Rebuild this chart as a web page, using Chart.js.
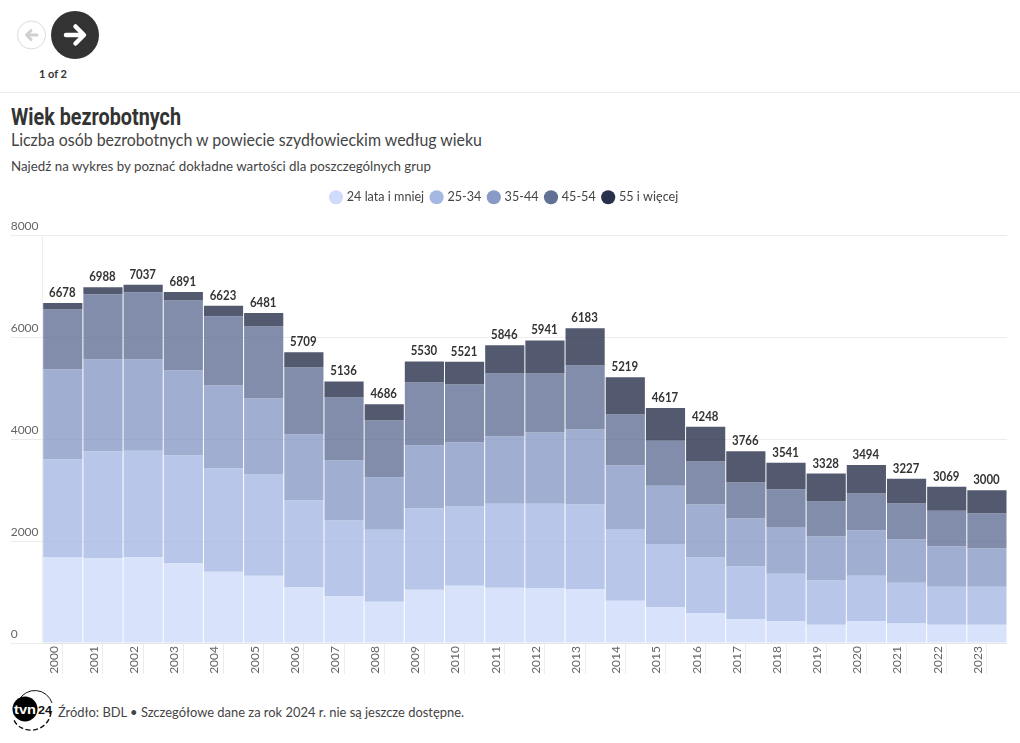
<!DOCTYPE html>
<html lang="pl">
<head>
<meta charset="utf-8">
<script src="https://cdn.jsdelivr.net/npm/chart.js@4"></script>
<style>
html,body{margin:0;padding:0;background:#fff;width:1020px;height:743px;overflow:hidden;font-family:Lato,sans-serif;}
.t{position:absolute;white-space:nowrap;transform-origin:0 50%;line-height:1;}
#title{left:11px;top:104px;font:700 23px Roboto,sans-serif;color:#333;}
#sub{left:11px;top:131px;font-size:17px;color:#444;}
#note{left:11px;top:159px;font-size:14px;color:#444;}
#foot{left:58px;top:705px;font-size:14px;color:#444;}
#page{left:39px;top:68px;font-size:12px;font-weight:700;color:#333;}
#rule{position:absolute;left:0;top:92px;width:1020px;height:1px;background:#ececec;}
#wrap{position:absolute;left:0;top:183px;width:1007px;height:495px;}
svg{position:absolute;left:0;top:0;}
</style>
</head>
<body>
<svg width="110" height="70">
  <circle cx="31.5" cy="35" r="14" fill="#fff" stroke="#dcdcdc" stroke-width="1"/>
  <path d="M37 35H27M31 30.5L26.5 35L31 39.5" fill="none" stroke="#d0d0d0" stroke-width="3" stroke-linecap="round" stroke-linejoin="round"/>
  <circle cx="75" cy="35" r="24" fill="#333"/>
  <path d="M66 35H83M75.5 26.5L84 35L75.5 43.5" fill="none" stroke="#fff" stroke-width="4.5" stroke-linecap="round" stroke-linejoin="round"/>
</svg>
<div class="t" id="page" data-w="28">1 of 2</div>
<div id="rule"></div>
<div class="t" id="title" data-w="170">Wiek bezrobotnych</div>
<div class="t" id="sub" data-w="471">Liczba osób bezrobotnych w powiecie szydłowieckim według wieku</div>
<div class="t" id="note" data-w="420">Najedź na wykres by poznać dokładne wartości dla poszczególnych grup</div>
<div id="wrap"><canvas id="c" width="1007" height="495" style="width:1007px;height:495px"></canvas></div>
<svg width="60" height="50" style="left:0;top:685px">
  <path d="M19 15A18 18 0 0 1 52 18" fill="none" stroke="#111" stroke-width="1"/>
  <path d="M51 27A20 20 0 0 1 22 43A14 14 0 0 1 14 35" fill="none" stroke="#111" stroke-width="1.4" stroke-dasharray="5 2.5"/>
  <circle cx="25" cy="24" r="12.5" fill="#000"/>
  <text x="14" y="28.5" font-family="Liberation Sans" font-weight="700" font-size="13" fill="#fff" textLength="22" lengthAdjust="spacingAndGlyphs">tvn</text>
  <text x="38" y="28.5" font-family="Liberation Sans" font-weight="700" font-size="10" fill="#111" textLength="14" lengthAdjust="spacingAndGlyphs">24</text>
</svg>
<div class="t" id="foot" data-w="406">Źródło: BDL • Szczegółowe dane za rok 2024 r. nie są jeszcze dostępne.</div>
<script>
const years = ['2000','2001','2002','2003','2004','2005','2006','2007','2008','2009','2010','2011','2012','2013','2014','2015','2016','2017','2018','2019','2020','2021','2022','2023'];
const group24 = [1677,1663,1683,1565,1401,1323,1093,916,810,1048,1126,1087,1081,1061,831,700,590,472,425,360,432,385,360,360];
const group25 = [1926,2097,2091,2117,2025,1985,1704,1488,1415,1592,1553,1645,1651,1657,1410,1246,1089,1028,937,865,891,800,747,747];
const group35 = [1775,1809,1795,1670,1632,1494,1297,1179,1028,1238,1258,1323,1402,1475,1244,1140,1039,943,918,864,884,845,786,747];
const group45 = [1173,1277,1317,1376,1356,1415,1317,1239,1117,1238,1140,1238,1159,1258,1002,884,846,708,733,688,728,708,702,688];
const group55 = [127,142,151,163,209,264,298,314,316,414,444,553,648,732,732,647,684,615,528,551,559,489,474,458];
const totals = [6678,6988,7037,6891,6623,6481,5709,5136,4686,5530,5521,5846,5941,6183,5219,4617,4248,3766,3541,3328,3494,3227,3069,3000];
const groupNames = ['24 lata i mniej','25-34','35-44','45-54','55 i więcej'];
const groupColors = ['#cedbfa','#a5b8e3','#889ac5','#617195','#28314b'];
const yTicks = [0,2000,4000,6000,8000];

document.querySelectorAll('.t').forEach(el => {
  const w = el.getBoundingClientRect().width;
  el.style.transform = 'scaleX(' + (Number(el.dataset.w) / w) + ')';
});

const alpha = (hex, a) => hex + Math.round(a * 255).toString(16).padStart(2, '0');
const series = [group24, group25, group35, group45, group55];

const totalsPlugin = {
  id: 'totals',
  beforeInit(chart) {
    const legend = chart.legend;
    const fit = legend.fit;
    legend.fit = function () { fit.call(this); this.height += 22; };
    const draw = legend.draw;
    legend.draw = function () {
      const c = this.ctx;
      c.save();
      c.translate(-4, 0);
      draw.call(this);
      c.restore();
    };
  },
  afterDatasetsDraw(chart) {
    const { ctx, scales } = chart;
    ctx.save();
    ctx.font = '700 13px Lato, sans-serif';
    ctx.fillStyle = '#333';
    ctx.textAlign = 'center';
    ctx.textBaseline = 'alphabetic';
    totals.forEach((v, i) => {
      ctx.save();
      ctx.translate(scales.x.getPixelForValue(i) - 0.5, scales.y.getPixelForValue(v) - 6);
      ctx.scale(0.88, 1);
      ctx.fillText(String(v), 0, 0);
      ctx.restore();
    });
    ctx.restore();
  }
};

new Chart(document.getElementById('c'), {
  type: 'bar',
  data: {
    labels: years,
    datasets: series.map((d, i) => ({
      label: groupNames[i],
      data: d,
      backgroundColor: alpha(groupColors[i], 0.8),
      barPercentage: 1,
      categoryPercentage: 0.975
    }))
  },
  options: {
    responsive: false,
    animation: false,
    layout: { padding: { left: 10.7, right: 0, top: 0, bottom: 0 } },
    plugins: {
      tooltip: { enabled: false },
      legend: {
        position: 'top',
        align: 'center',
        onClick: null,
        labels: {
          usePointStyle: true,
          pointStyle: 'circle',
          boxHeight: 10,
          boxWidth: 9,
          padding: 8,
          color: '#444',
          font: { family: 'Lato, sans-serif', size: 12.6 },
          generateLabels: () => groupNames.map((n, i) => ({
            text: n, fillStyle: groupColors[i], strokeStyle: groupColors[i], lineWidth: 0,
            pointStyle: 'circle', datasetIndex: i, fontColor: '#444'
          }))
        }
      }
    },
    scales: {
      x: {
        stacked: true,
        afterFit(s) { s.height = 35; },
        grid: { offset: false, drawOnChartArea: false, drawTicks: true, tickLength: 31, color: '#ececec' },
        border: { display: true, color: '#e4e4e4' },
        ticks: {
          autoSkip: false, minRotation: 90, maxRotation: 90,
          padding: -28, labelOffset: -9, color: '#666',
          font: { family: 'Lato, sans-serif', size: 12 }
        }
      },
      y: {
        stacked: true,
        min: 0, max: 8000,
        afterFit(s) { s.width = 32; },
        afterBuildTicks(s) { s.ticks = yTicks.map(v => ({ value: v })); },
        grid: { color: '#ececec', tickLength: 32 },
        border: { display: true, color: '#ececec' },
        ticks: {
          crossAlign: 'far', labelOffset: -9, color: '#666',
          font: { family: 'Lato, sans-serif', size: 12 },
          callback: v => String(v)
        }
      }
    }
  },
  plugins: [totalsPlugin]
});
</script>
</body>
</html>
